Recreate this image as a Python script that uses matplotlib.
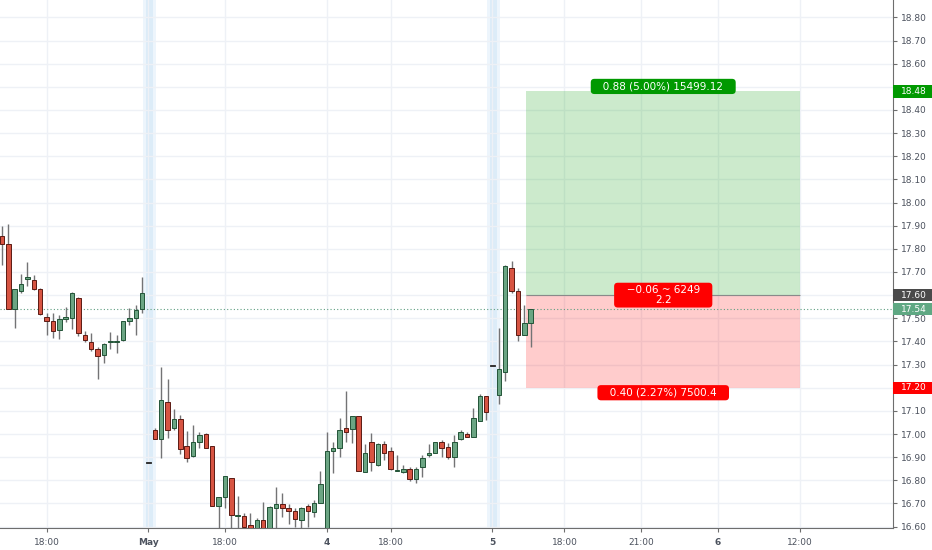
import numpy as np
import matplotlib.pyplot as plt
from matplotlib.patches import Rectangle

# 15 min candles (index 0 = leftmost bar)
opens = [17.857, 17.819, 17.540, 17.619, 17.668, 17.665, 17.626, 17.507, 17.487, 17.448,
         17.498, 17.500, 17.587, 17.428, 17.396, 17.367, 17.340, 17.396, 17.396, 17.406,
         17.489, 17.500, 17.539, 16.878, 17.017, 16.977, 17.137, 17.027, 17.066, 16.947,
         16.906, 16.967, 17.001, 16.947, 16.689, 16.729, 16.809, 16.645, 16.646, 16.605,
         16.590, 16.627, 16.590, 16.682, 16.696, 16.679, 16.667, 16.627, 16.688, 16.662,
         16.703, 16.580, 16.927, 16.938, 17.027, 17.020, 17.078, 16.837, 16.965, 16.866,
         16.957, 16.928, 16.839, 16.837, 16.847, 16.806, 16.856, 16.908, 16.919, 16.965,
         16.945, 16.902, 16.977, 16.998, 16.988, 17.057, 17.164, 17.298, 17.168, 17.267,
         17.719, 17.619, 17.428, 17.478]
highs = [17.898, 17.907, 17.626, 17.691, 17.743, 17.686, 17.630, 17.521, 17.521, 17.514,
         17.547, 17.612, 17.590, 17.446, 17.436, 17.377, 17.393, 17.440, 17.428, 17.490,
         17.543, 17.557, 17.677, 16.878, 17.025, 17.288, 17.238, 17.107, 17.082, 17.013,
         17.038, 17.007, 17.006, 16.947, 16.729, 16.817, 16.810, 16.732, 16.657, 16.657,
         16.637, 16.707, 16.690, 16.771, 16.746, 16.697, 16.680, 16.686, 16.698, 16.714,
         16.840, 17.010, 16.967, 17.068, 17.187, 17.078, 17.080, 16.957, 17.003, 16.960,
         16.971, 16.945, 16.909, 16.866, 16.856, 16.856, 16.909, 16.957, 16.967, 16.974,
         16.960, 16.996, 17.017, 17.010, 17.111, 17.173, 17.165, 17.298, 17.458, 17.730,
         17.747, 17.629, 17.557, 17.540]
lows = [17.730, 17.540, 17.459, 17.608, 17.641, 17.621, 17.515, 17.428, 17.413, 17.412,
        17.485, 17.452, 17.423, 17.399, 17.360, 17.238, 17.307, 17.368, 17.351, 17.400,
        17.470, 17.429, 17.521, 16.878, 16.977, 16.898, 16.984, 17.017, 16.912, 16.878,
        16.902, 16.938, 16.940, 16.689, 16.590, 16.680, 16.590, 16.590, 16.590, 16.580,
        16.580, 16.580, 16.580, 16.590, 16.643, 16.611, 16.600, 16.590, 16.600, 16.640,
        16.700, 16.580, 16.830, 16.902, 16.967, 16.960, 16.840, 16.835, 16.841, 16.860,
        16.888, 16.845, 16.840, 16.830, 16.798, 16.787, 16.816, 16.900, 16.919, 16.900,
        16.890, 16.859, 16.975, 16.985, 16.985, 17.055, 17.060, 17.298, 17.128, 17.229,
        17.608, 17.403, 17.428, 17.377]
closes = [17.819, 17.541, 17.626, 17.647, 17.678, 17.626, 17.518, 17.488, 17.446, 17.498,
          17.507, 17.608, 17.438, 17.407, 17.367, 17.338, 17.387, 17.400, 17.400, 17.488,
          17.500, 17.537, 17.608, 16.878, 16.977, 17.147, 17.017, 17.066, 16.936, 16.898,
          16.967, 16.997, 16.940, 16.689, 16.729, 16.817, 16.649, 16.650, 16.600, 16.590,
          16.627, 16.590, 16.686, 16.698, 16.679, 16.667, 16.633, 16.682, 16.667, 16.703,
          16.783, 16.928, 16.938, 17.017, 17.007, 17.078, 16.841, 16.917, 16.878, 16.957,
          16.919, 16.847, 16.843, 16.847, 16.806, 16.847, 16.898, 16.918, 16.967, 16.938,
          16.900, 16.967, 17.007, 16.988, 17.068, 17.164, 17.096, 17.298, 17.279, 17.727,
          17.618, 17.428, 17.478, 17.540]

tick_pos = [7, 23, 35, 51, 61, 77, 88.3, 100.3, 112.4, 125.2]
tick_labels = ['18:00', 'May', '18:00', '4', '18:00', '5', '18:00', '21:00', '6', '12:00']
day_labels = ['May', '4', '5', '6']
session_starts = [23, 77]

# long position tool
entry_price = 17.60
target_price = 18.48
stop_price = 17.20
target_amount = 15499.12
stop_amount = 7500.4
open_qty = 6249
box_left, box_right = 82.3, 125.3

UP, DOWN = '#6ba583', '#d75442'
UP_EDGE, DOWN_EDGE = '#225437', '#5b1a13'
WICK = '#737375'
TXT = '#4c525e'

fig = plt.figure(figsize=(9.32, 5.5), dpi=100)
ax = fig.add_axes([0, 22 / 550, 893 / 932, 528 / 550])

n = len(opens)
x = np.arange(n)
o = np.array(opens)
c = np.array(closes)

for s in session_starts:
    ax.axvspan(s - 0.9, s + 1.1, color='#edf5fc', lw=0, zorder=0.3)
    ax.axvspan(s - 0.4, s + 0.7, color='#dcecf8', lw=0, zorder=0.4)

up = c > o
flat = np.abs(c - o) < 0.001
body_col = np.where(up, UP, DOWN)
edge_col = np.where(up, UP_EDGE, DOWN_EDGE)
body_col[flat] = '#333333'
edge_col[flat] = '#333333'

ax.vlines(x, lows, highs, color=WICK, lw=1, zorder=2)
heights = np.where(np.abs(c - o) < 0.004, 0.004, c - o)
bottoms = np.where(np.abs(c - o) < 0.004, (o + c) / 2 - 0.002, o)
ax.bar(x, heights, bottom=bottoms, width=0.7, color=body_col, edgecolor=edge_col,
       lw=0.7, zorder=3)

# position zones
ax.fill_between([box_left, box_right], entry_price, target_price, color=(0, 0.6, 0),
                alpha=0.2, lw=0, zorder=1)
ax.fill_between([box_left, box_right], stop_price, entry_price, color=(1, 0, 0),
                alpha=0.2, lw=0, zorder=1)
ax.hlines(entry_price, box_left, box_right, color='#8a8a8a', lw=0.8, zorder=1.2)

last = closes[-1]
ax.axhline(last, color='#5f9f82', lw=0.8, ls=(0, (1, 2)), zorder=1.5)

mid = (box_left + box_right) / 2
gain = target_price - entry_price
loss = entry_price - stop_price
pnl = last - entry_price
box = dict(boxstyle='round,pad=0.25,rounding_size=0.35', ec='none')
ax.text(mid, target_price, '   %.2f (%.2f%%) %.2f   ' % (gain, gain / entry_price * 100, target_amount),
        ha='center', va='bottom', fontsize=7.5, color='white', zorder=6,
        bbox=dict(box, fc='#009900'))
ax.text(mid, stop_price, '   %.2f (%.2f%%) %s   ' % (loss, loss / entry_price * 100, stop_amount),
        ha='center', va='top', fontsize=7.5, color='white', zorder=6,
        bbox=dict(box, fc='#ff0000'))
mid_txt = ('   %.2f ~ %d   \n%.1f' % (pnl, open_qty, gain / loss)).replace('-', '\u2212')
ax.text(mid, entry_price, mid_txt, ha='center', va='center', fontsize=7.5, color='white',
        linespacing=0.95, multialignment='center', zorder=6,
        bbox=dict(box, fc='#ff0000'))

ax.set_xlim(-0.31, 139.87)
ax.set_ylim(16.594, 18.875)

# price labels on the scale
marks = [(target_price, '#009900'), (entry_price, '#4a4a4a'),
         (last, '#5fa883'), (stop_price, '#ff0000')]

yt = np.round(np.arange(16.6, 18.81, 0.1), 2)
hidden = [v for v in yt if any(abs(v - p) < 0.035 for p, _ in marks) and abs(v - last) > 0.035]
ax.set_yticks(yt)
ax.set_yticklabels(['' if v in hidden else '%.2f' % v for v in yt])
ax.yaxis.tick_right()
ax.set_xticks(tick_pos)
ax.set_xticklabels(tick_labels)
for lab in ax.get_xticklabels():
    if lab.get_text() in day_labels:
        lab.set_fontweight('bold')

ax.tick_params(axis='both', colors='#6e6e6e', labelcolor=TXT, labelsize=6.5,
               length=3, width=0.8, pad=2.5)
ax.tick_params(axis='x', pad=4)
ax.grid(True, color='#eef1f6', lw=1)
ax.set_axisbelow(True)
for side in ['top', 'left']:
    ax.spines[side].set_visible(False)
for side in ['right', 'bottom']:
    ax.spines[side].set_color('#6e6e6e')
    ax.spines[side].set_linewidth(0.8)

ytr = ax.get_yaxis_transform()
half = 6.2 / 231.5
for p, col in marks:
    ax.add_patch(Rectangle((1.0, p - half), 0.05, 2 * half, transform=ytr, fc=col,
                           ec='none', clip_on=False, zorder=9))
    ax.text(1.0 + 8 / 893, p, '%.2f' % p, transform=ytr, ha='left', va='center',
            fontsize=6.5, color='white', zorder=10, clip_on=False)

fig.savefig('out.png', dpi=100)
